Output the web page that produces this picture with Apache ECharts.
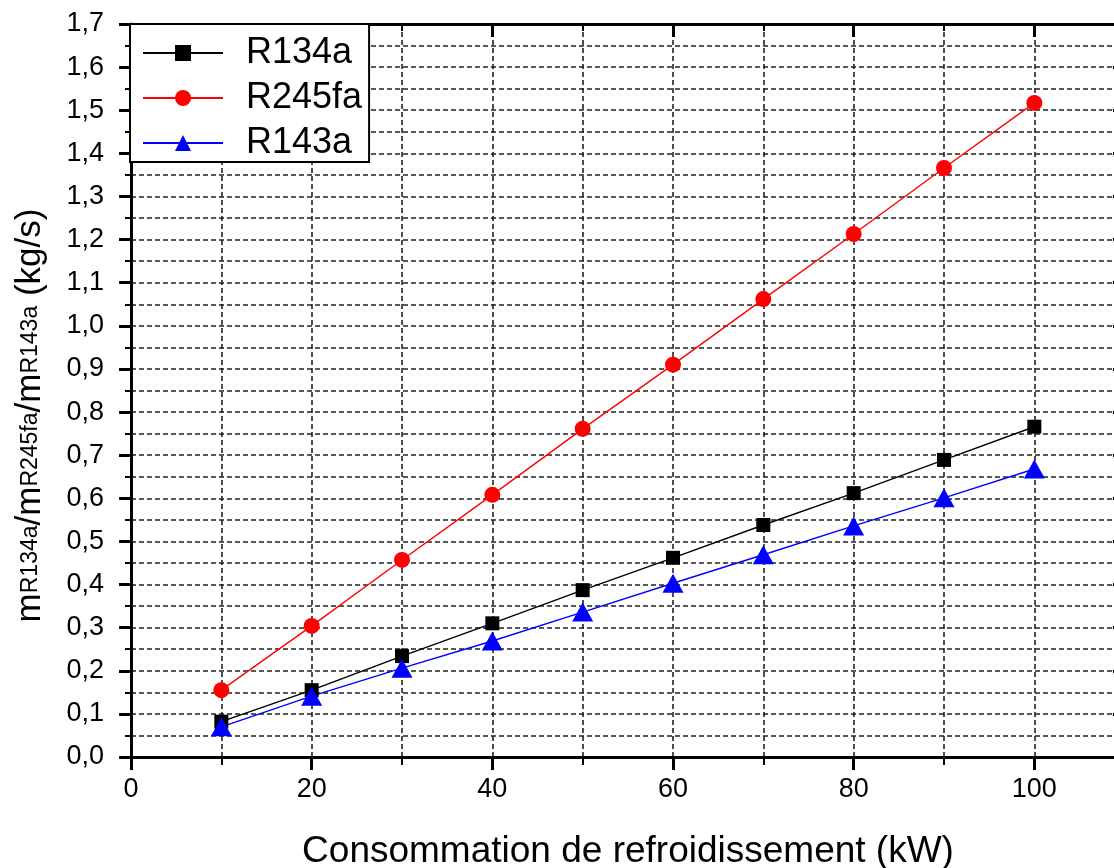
<!DOCTYPE html>
<html>
<head>
<meta charset="utf-8">
<script src="https://cdn.jsdelivr.net/npm/echarts@6/dist/echarts.min.js"></script>
<style>
  html, body { margin: 0; padding: 0; background: #fff; }
  #chart { width: 1114px; height: 868px; }
</style>
</head>
<body>
<div id="chart"></div>
<script>
// Data
const xValues = [10, 20, 30, 40, 50, 60, 70, 80, 90, 100];
const r134a  = [0.082, 0.155, 0.234, 0.310, 0.387, 0.462, 0.538, 0.612, 0.689, 0.766];
const r245fa = [0.155, 0.304, 0.457, 0.608, 0.761, 0.910, 1.062, 1.213, 1.366, 1.517];
const r143a  = [0.070, 0.141, 0.206, 0.269, 0.336, 0.403, 0.469, 0.536, 0.601, 0.668];
const seriesNames = ['R134a', 'R245fa', 'R143a'];
const xTitle = 'Consommation de refroidissement (kW)';

const FONT = 'Liberation Sans, Arial, sans-serif';
const dashed = { type: [5, 3], color: '#222', width: 1.6 };

function pairs(ys) { return xValues.map((x, i) => [x, ys[i]]); }

const chart = echarts.init(document.getElementById('chart'));
chart.setOption({
  animation: false,
  backgroundColor: '#fff',
  grid: { left: 131, top: 24, width: 1084, height: 733, containLabel: false, outerBoundsMode: 'none' },
  legend: {
    data: seriesNames,
    orient: 'vertical',
    left: 130, top: 24,
    padding: [11, 7, 1, 12],
    itemWidth: 80, itemHeight: 20, itemGap: 9,
    backgroundColor: '#fff',
    borderColor: '#000', borderWidth: 2,
    textStyle: { fontFamily: FONT, fontSize: 36, color: '#000', lineHeight: 36, padding: [0, 0, 0, 18] }
  },
  xAxis: [{
    type: 'value', min: 0, max: 120, interval: 20,
    name: xTitle, nameLocation: 'middle', nameGap: 76,
    nameTextStyle: { fontFamily: FONT, fontSize: 37, color: '#000', lineHeight: 37, padding: [0, 90, 0, 0] },
    axisLine: { show: true, onZero: false, lineStyle: { color: '#000', width: 3 } },
    axisTick: { show: true, inside: false, length: 13, lineStyle: { color: '#000', width: 3 } },
    minorTick: { show: true, splitNumber: 2, length: 8, lineStyle: { color: '#000', width: 2 } },
    axisLabel: { margin: 19, fontFamily: FONT, fontSize: 27, color: '#000' },
    splitLine: { show: true, lineStyle: dashed },
    minorSplitLine: { show: true, lineStyle: dashed }
  }, {
    type: 'value', position: 'top', min: 0, max: 120, interval: 20,
    axisLine: { show: true, onZero: false, lineStyle: { color: '#000', width: 3 } },
    axisTick: { show: true, inside: true, length: 13, lineStyle: { color: '#000', width: 3 } },
    minorTick: { show: true, splitNumber: 2, length: 7, lineStyle: { color: '#000', width: 2 } },
    axisLabel: { show: false },
    splitLine: { show: false }
  }],
  yAxis: [{
    type: 'value', min: 0, max: 1.7, interval: 0.1,
    name: '{m|m}{s|R134a}{m|/m}{s|R245fa}{m|/m}{s|R143a}{m| (kg/s)}',
    nameLocation: 'middle', nameGap: 83, nameRotate: 90,
    nameTextStyle: {
      fontFamily: FONT, color: '#000', padding: [0, 50, 0, 0],
      rich: {
        m: { fontFamily: FONT, fontSize: 35, color: '#000' },
        s: { fontFamily: FONT, fontSize: 23, color: '#000' }
      }
    },
    axisLine: { show: true, onZero: false, lineStyle: { color: '#000', width: 3 } },
    axisTick: { show: true, inside: false, length: 12, lineStyle: { color: '#000', width: 3 } },
    minorTick: { show: true, splitNumber: 2, length: 6, lineStyle: { color: '#000', width: 2 } },
    axisLabel: {
      margin: 27, fontFamily: FONT, fontSize: 27, color: '#000',
      formatter: v => v.toFixed(1).replace('.', ',')
    },
    splitLine: { show: true, lineStyle: dashed },
    minorSplitLine: { show: true, lineStyle: dashed }
  }, {
    type: 'value', position: 'right', offset: -90, min: 0, max: 1.7, interval: 0.1,
    axisLine: { show: true, onZero: false, lineStyle: { color: '#000', width: 3 } },
    axisTick: { show: true, inside: true, length: 12, lineStyle: { color: '#000', width: 3 } },
    minorTick: { show: true, splitNumber: 2, length: 6, lineStyle: { color: '#000', width: 2 } },
    axisLabel: { show: false },
    splitLine: { show: false }
  }],
  series: [{
    name: seriesNames[0], type: 'line', data: pairs(r134a),
    symbol: 'rect', symbolSize: 14, showAllSymbol: true,
    lineStyle: { color: '#000', width: 1.4 },
    itemStyle: { color: '#000' }
  }, {
    name: seriesNames[1], type: 'line', data: pairs(r245fa),
    symbol: 'circle', symbolSize: 16, showAllSymbol: true,
    lineStyle: { color: '#ff0000', width: 1.4 },
    itemStyle: { color: '#ff0000' }
  }, {
    name: seriesNames[2], type: 'line', data: pairs(r143a),
    symbol: 'triangle', symbolSize: [21, 19], showAllSymbol: true,
    lineStyle: { color: '#0000ff', width: 1.4 },
    itemStyle: { color: '#0000ff' }
  }]
});
</script>
</body>
</html>
